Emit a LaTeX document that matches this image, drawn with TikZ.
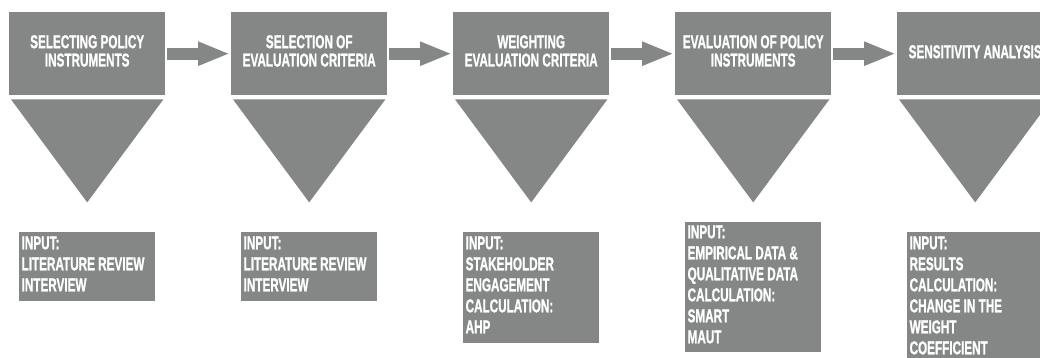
\documentclass[tikz,border=0pt]{standalone}
\usepackage{fontspec}
\newfontfamily\dinfont{Liberation Sans}[BoldFeatures={FakeBold=1.3}]
\usetikzlibrary{arrows.meta,calc}
\definecolor{boxgray}{RGB}{133,135,135}
\tikzset{
  topbox/.style={fill=boxgray, draw=none, minimum width=156pt, minimum height=83pt, inner sep=0pt, anchor=north west},
  toptext/.style={text=white, font=\dinfont\bfseries\fontsize{18.6}{18.3}\selectfont, align=center, inner sep=0pt, anchor=north, xscale=0.63, transform shape},
  botbox/.style={fill=boxgray, draw=none, minimum width=136pt, inner sep=0pt, anchor=north west},
  bottext/.style={text=white, font=\dinfont\bfseries\fontsize{18.6}{21}\selectfont, align=left, inner sep=0pt, anchor=north west, xscale=0.63, transform shape},
  flowarrow/.style={draw=boxgray, line width=12pt, -{Triangle[length=32pt,width=22pt]}},
  funnel/.style={fill=boxgray, draw=none}
}
\begin{document}
\begin{tikzpicture}[x=1pt,y=-1pt]
\useasboundingbox (0,0) rectangle (1040,358);
\clip (0,0) rectangle (1040,358);
% top boxes
\node[topbox] (b1) at (9,12) {};
\node[topbox] (b2) at (231,12) {};
\node[topbox] (b3) at (453,12) {};
\node[topbox] (b4) at (675,12) {};
\node[topbox] (b5) at (897,12) {};
\node[toptext] (t1) at ([yshift=-23pt]b1.north) {SELECTING POLICY\\INSTRUMENTS};
\node[toptext] (t2) at ([yshift=-23pt]b2.north) {SELECTION OF\\EVALUATION CRITERIA};
\node[toptext] (t3) at ([yshift=-23pt]b3.north) {WEIGHTING\\EVALUATION CRITERIA};
\node[toptext] (t4) at ([yshift=-23pt]b4.north) {EVALUATION OF POLICY\\INSTRUMENTS};
\node[toptext] (t5) at ([yshift=-33pt]b5.north) {SENSITIVITY ANALYSIS};
% arrows
\draw[flowarrow] ([xshift=2pt]b1.east) -- ([xshift=-1pt]b2.west);
\draw[flowarrow] ([xshift=2pt]b2.east) -- ([xshift=-1pt]b3.west);
\draw[flowarrow] ([xshift=2pt]b3.east) -- ([xshift=-1pt]b4.west);
\draw[flowarrow] ([xshift=2pt]b4.east) -- ([xshift=-1pt]b5.west);
% funnels
\foreach \b in {b1,b2,b3,b4,b5}{
  \fill[funnel] ([shift={(2,4)}]\b.south west) -- ([shift={(-2,4)}]\b.south east) -- ($(\b.south)+(0,107)$) -- cycle;
}
% bottom boxes
\node[botbox, minimum height=69pt] (c1) at (19,232) {};
\node[botbox, minimum height=69pt] (c2) at (241,232) {};
\node[botbox, minimum height=111pt] (c3) at (463,232) {};
\node[botbox, minimum height=130pt] (c4) at (685,222) {};
\node[botbox, minimum height=140pt] (c5) at (907,232) {};
\node[bottext] (d1) at ([shift={(2.5,4.3)}]c1.north west) {INPUT:\\LITERATURE REVIEW\\INTERVIEW};
\node[bottext] (d2) at ([shift={(2.5,4.3)}]c2.north west) {INPUT:\\LITERATURE REVIEW\\INTERVIEW};
\node[bottext] (d3) at ([shift={(2.5,4.3)}]c3.north west) {INPUT:\\STAKEHOLDER\\ENGAGEMENT\\CALCULATION:\\AHP};
\node[bottext] (d4) at ([shift={(2.5,3.3)}]c4.north west) {INPUT:\\EMPIRICAL DATA \&\\QUALITATIVE DATA\\CALCULATION:\\SMART\\MAUT};
\node[bottext] (d5) at ([shift={(2.5,4.3)}]c5.north west) {INPUT:\\RESULTS\\CALCULATION:\\CHANGE IN THE\\WEIGHT\\COEFFICIENT};
\end{tikzpicture}
\end{document}
